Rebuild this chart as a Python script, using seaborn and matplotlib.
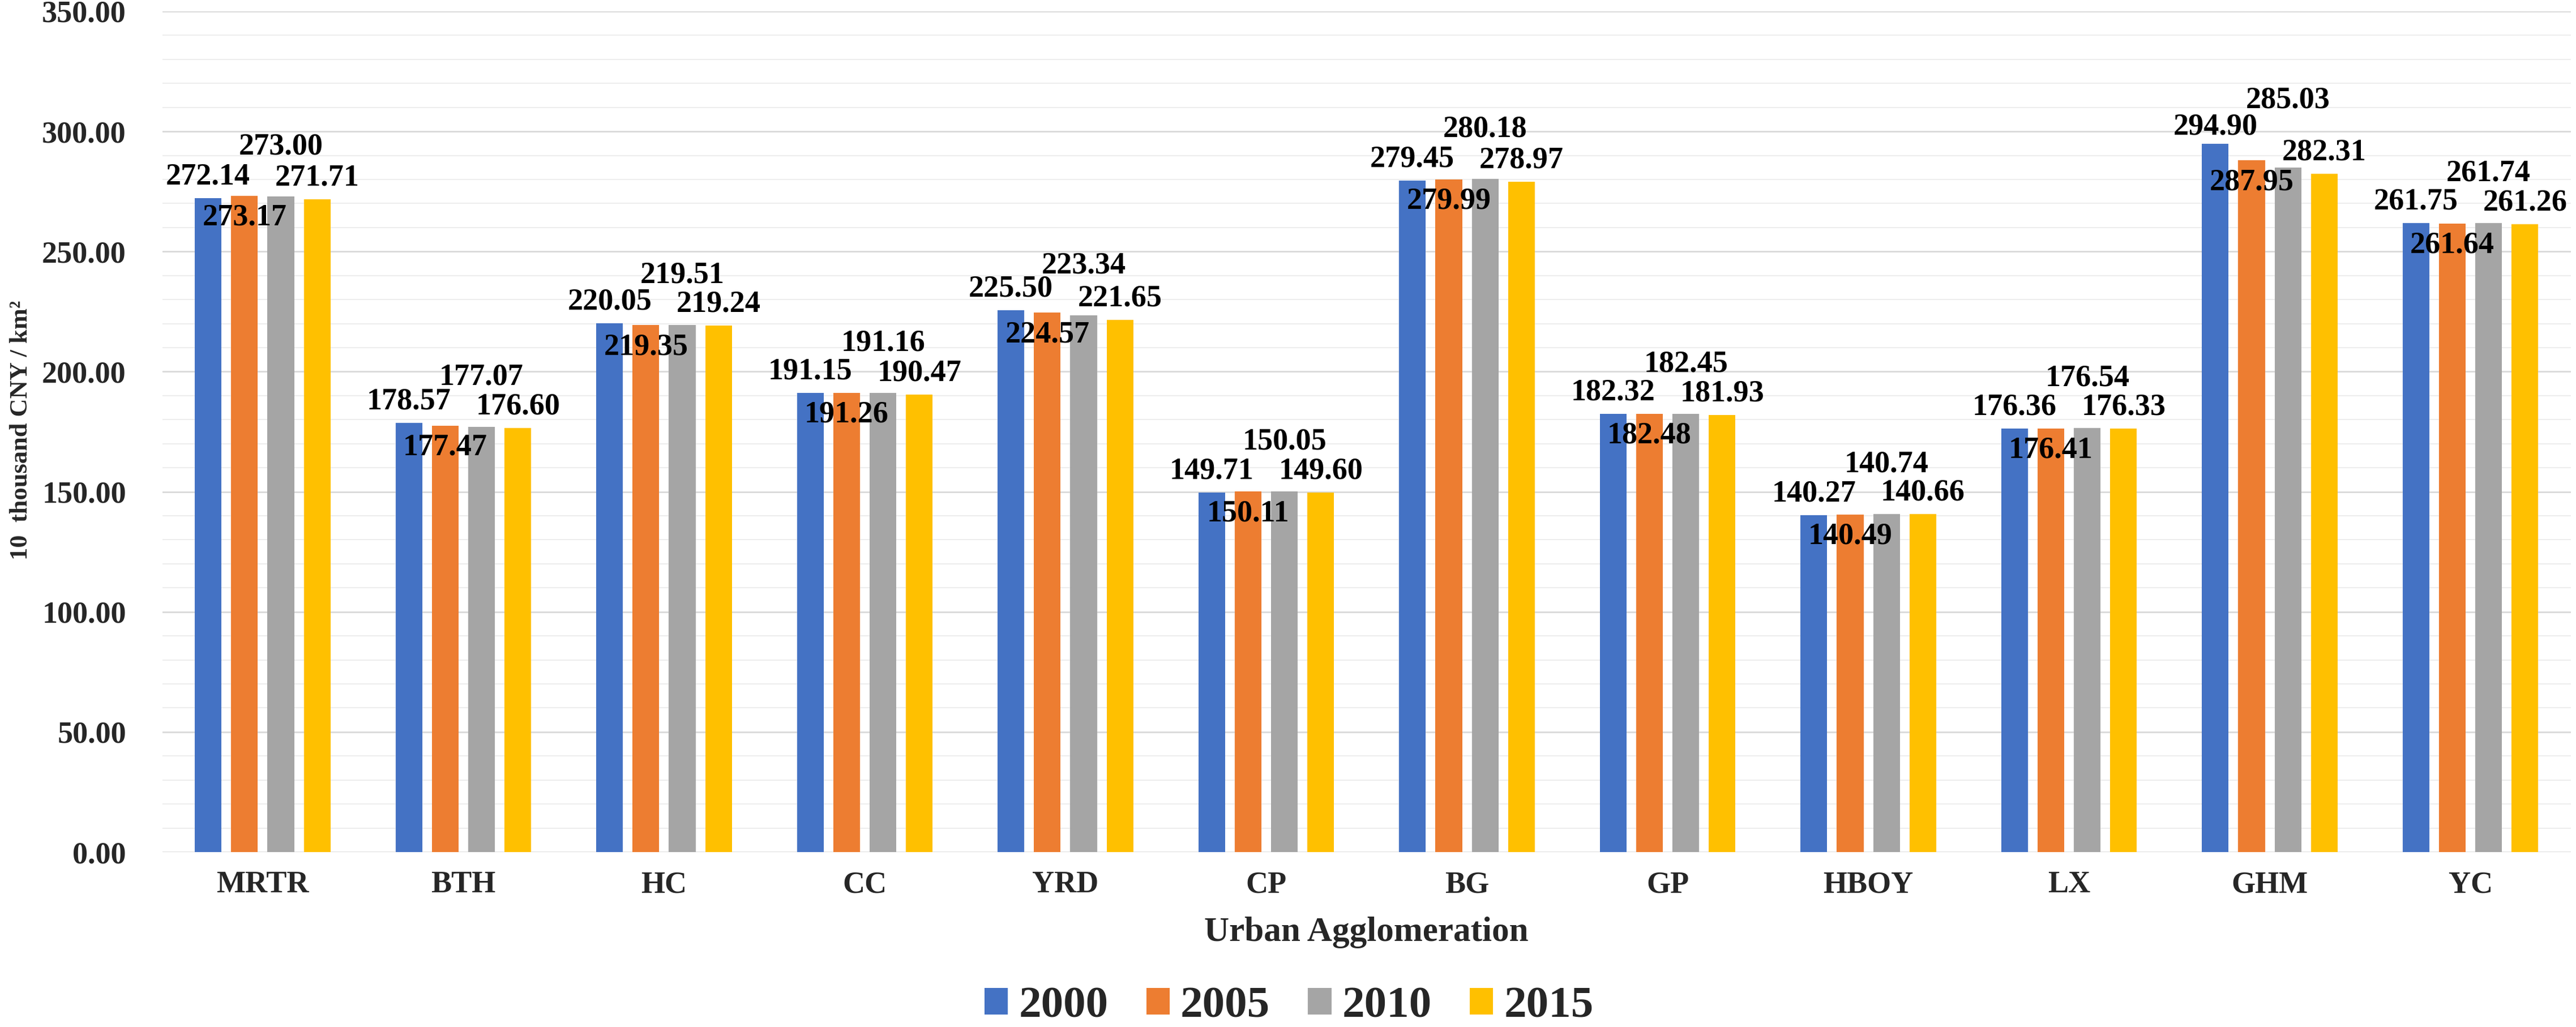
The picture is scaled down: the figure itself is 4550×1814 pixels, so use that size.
#!/usr/bin/env python3

# Grouped bar chart: output density per urban agglomeration, 2000-2015

import pandas as pd
import matplotlib.pyplot as plt
import seaborn as sns

# Data
agglomerations = ["MRTR", "BTH", "HC", "CC", "YRD", "CP",
                  "BG", "GP", "HBOY", "LX", "GHM", "YC"]
years = ["2000", "2005", "2010", "2015"]
v2000 = [272.14, 178.57, 220.05, 191.15, 225.50, 149.71,
         279.45, 182.32, 140.27, 176.36, 294.90, 261.75]
v2005 = [273.17, 177.47, 219.35, 191.26, 224.57, 150.11,
         279.99, 182.48, 140.49, 176.41, 287.95, 261.64]
v2010 = [273.00, 177.07, 219.51, 191.16, 223.34, 150.05,
         280.18, 182.45, 140.74, 176.54, 285.03, 261.74]
v2015 = [271.71, 176.60, 219.24, 190.47, 221.65, 149.60,
         278.97, 181.93, 140.66, 176.33, 282.31, 261.26]

colors = ["#4472C4", "#ED7D31", "#A5A5A5", "#FFC000"]

# label offsets (points) per series, Excel style staggering
label_offsets = [27, -28, 63, 27]
label_override = {("GHM", 0): 21, ("GHM", 2): 85}

sns.set_theme(style="white")
plt.rcParams['font.family'] = ['Liberation Serif', 'DejaVu Serif']
plt.rcParams['font.weight'] = 'bold'

rows = []
for yr, vals in zip(years, [v2000, v2005, v2010, v2015]):
    for name, v in zip(agglomerations, vals):
        rows.append({"Urban Agglomeration": name, "year": yr, "value": v})
df = pd.DataFrame(rows)

fig = plt.figure(figsize=(45.5, 18.14), dpi=100)
ax = fig.add_axes([0.063, 0.1703, 0.935, 0.8187])

sns.barplot(data=df, x="Urban Agglomeration", y="value", hue="year",
            order=agglomerations, hue_order=years, palette=colors,
            saturation=1, width=0.724, gap=0.265, errorbar=None,
            linewidth=0, ax=ax, zorder=3)

ax.set_ylim(0, 350)
ax.set_xlim(-0.5, len(agglomerations) - 0.5)
ax.set_yticks(range(0, 351, 50))
ax.set_yticks(range(0, 351, 10), minor=True)
ax.set_yticklabels([f"{t:.2f}" for t in range(0, 351, 50)])
ax.grid(axis='y', which='major', color='#d9d9d9', linewidth=2.0, zorder=0)
ax.grid(axis='y', which='minor', color='#ededed', linewidth=1.4, zorder=0)
ax.grid(axis='x', visible=False)
ax.set_axisbelow(True)
for sp in ax.spines.values():
    sp.set_visible(False)

ax.tick_params(axis='x', length=0, pad=24, labelsize=39)
ax.tick_params(axis='y', which='both', length=0, pad=46, labelsize=39)
for lab in ax.get_xticklabels() + ax.get_yticklabels():
    lab.set_fontweight('bold')

ax.set_xlabel("Urban Agglomeration", fontsize=44, fontweight='bold')
ax.xaxis.label.set_va('center')
ax.xaxis.set_label_coords(0.5, -0.0958)
ax.set_ylabel("10  thousand CNY / km²", fontsize=32, fontweight='bold')
ax.yaxis.label.set_va('center')
ax.yaxis.set_label_coords(-0.0588, 0.502)

# value labels
for si, cont in enumerate(ax.containers):
    for ci, bar in enumerate(cont):
        off = label_override.get((agglomerations[ci], si), label_offsets[si])
        ax.annotate(f"{bar.get_height():.2f}",
                    xy=(bar.get_x() + bar.get_width() / 2, bar.get_height()),
                    xytext=(0, off), textcoords='offset points',
                    ha='center', va='center', fontsize=39,
                    fontweight='bold', color='black', zorder=5)

ax.get_legend().remove()
handles, labels = ax.get_legend_handles_labels()
fig.legend(handles, labels, loc='center', bbox_to_anchor=(0.5004, 0.0198),
           ncol=4, frameon=False, prop={'size': 57, 'weight': 'bold'},
           handlelength=0.52, handleheight=0.53, handletextpad=0.24,
           columnspacing=0.85)

plt.savefig("out.png", dpi=100)
